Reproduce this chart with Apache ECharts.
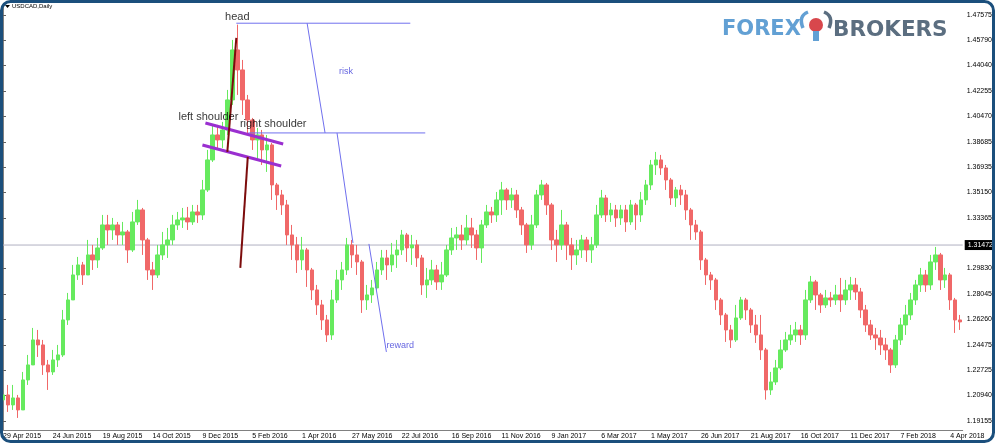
<!DOCTYPE html>
<html><head><meta charset="utf-8">
<script src="https://cdn.jsdelivr.net/npm/echarts@6/dist/echarts.min.js"></script>
<style>html,body{margin:0;padding:0;background:#fff;}#c{width:995px;height:443px;}</style>
</head><body><div id="c"></div>
<script>
// ---- tick labels ----
const dateLabels = ['29 Apr 2015','24 Jun 2015','19 Aug 2015','14 Oct 2015','9 Dec 2015','5 Feb 2016','1 Apr 2016','27 May 2016','22 Jul 2016','16 Sep 2016','11 Nov 2016','9 Jan 2017','6 Mar 2017','1 May 2017','26 Jun 2017','21 Aug 2017','16 Oct 2017','11 Dec 2017','7 Feb 2018','4 Apr 2018'];
const priceTicks = [1.47575,1.45790,1.44040,1.42255,1.40470,1.38685,1.36935,1.35150,1.33365,1.29830,1.28045,1.26260,1.24475,1.22725,1.20940,1.19155];
const currentPrice = 1.31472;

// ---- USDCAD price bars (each bar ~4 trading days) ----
const openP = [1.2063,1.2098,1.2028,1.2077,1.1993,1.2203,1.2308,1.2483,1.2448,1.2308,
1.2259,1.2343,1.2378,1.2623,1.2763,1.2938,1.3008,1.2938,1.3078,1.3043,
1.3127,1.3288,1.3253,1.3288,1.3218,1.3239,1.3113,1.3309,1.3393,1.3183,
1.2973,1.2938,1.3078,1.3148,1.3183,1.3288,1.3323,1.3337,1.3309,1.3379,
1.3358,1.3533,1.3743,1.3918,1.3883,1.3953,1.4163,1.4513,1.4373,1.4163,
1.4023,1.3883,1.3918,1.3813,1.3848,1.3568,1.3498,1.3428,1.3218,1.3148,
1.3043,1.3113,1.2973,1.2833,1.2728,1.2623,1.2518,1.2763,1.2903,1.2973,
1.3148,1.3078,1.3029,1.2763,1.2798,1.2847,1.2973,1.3057,1.3008,1.3078,
1.3113,1.3218,1.3127,1.3148,1.3057,1.2868,1.2903,1.2973,1.2889,1.2938,
1.3113,1.3197,1.3218,1.3183,1.3267,1.3218,1.3127,1.3288,1.3379,1.3358,
1.3463,1.3533,1.3463,1.3498,1.3393,1.3288,1.3148,1.3288,1.3498,1.3568,
1.3428,1.3183,1.3148,1.3288,1.3148,1.3078,1.3113,1.3183,1.3113,1.3148,
1.3358,1.3477,1.3358,1.3393,1.3337,1.3393,1.3309,1.3428,1.3358,1.3463,
1.3568,1.3708,1.3743,1.3687,1.3603,1.3477,1.3533,1.3498,1.3393,1.3288,
1.3239,1.3043,1.2938,1.2903,1.2763,1.2658,1.2553,1.2483,1.2637,1.2763,
1.2693,1.2588,1.2518,1.2413,1.2133,1.2189,1.2287,1.2413,1.2483,1.2518,
1.2553,1.2518,1.2763,1.2889,1.2798,1.2728,1.2777,1.2763,1.2798,1.2763,
1.2833,1.2868,1.2819,1.2693,1.2588,1.2518,1.2497,1.2448,1.2413,1.2308,
1.2483,1.2588,1.2658,1.2763,1.2868,1.2938,1.2868,1.3029,1.3078,1.2903,
1.2938,1.2763,1.2623];
const closeP = [1.2098,1.2028,1.2077,1.1993,1.2203,1.2308,1.2483,1.2448,1.2308,1.2259,
1.2343,1.2378,1.2623,1.2763,1.2938,1.3008,1.2938,1.3078,1.3043,1.3127,
1.3288,1.3253,1.3288,1.3218,1.3239,1.3113,1.3309,1.3393,1.3183,1.2973,
1.2938,1.3078,1.3148,1.3183,1.3288,1.3323,1.3337,1.3309,1.3379,1.3358,
1.3533,1.3743,1.3918,1.3883,1.3953,1.4163,1.4513,1.4373,1.4163,1.4023,
1.3883,1.3918,1.3813,1.3848,1.3568,1.3498,1.3428,1.3218,1.3148,1.3043,
1.3113,1.2973,1.2833,1.2728,1.2623,1.2518,1.2763,1.2903,1.2973,1.3148,
1.3078,1.3029,1.2763,1.2798,1.2847,1.2973,1.3057,1.3008,1.3078,1.3113,
1.3218,1.3127,1.3148,1.3057,1.2868,1.2903,1.2973,1.2889,1.2938,1.3113,
1.3197,1.3218,1.3183,1.3267,1.3218,1.3127,1.3288,1.3379,1.3358,1.3463,
1.3533,1.3463,1.3498,1.3393,1.3288,1.3148,1.3288,1.3498,1.3568,1.3428,
1.3183,1.3148,1.3288,1.3148,1.3078,1.3113,1.3183,1.3113,1.3148,1.3358,
1.3477,1.3358,1.3393,1.3337,1.3393,1.3309,1.3428,1.3358,1.3463,1.3568,
1.3708,1.3743,1.3687,1.3603,1.3477,1.3533,1.3498,1.3393,1.3288,1.3239,
1.3043,1.2938,1.2903,1.2763,1.2658,1.2553,1.2483,1.2637,1.2763,1.2693,
1.2588,1.2518,1.2413,1.2133,1.2189,1.2287,1.2413,1.2483,1.2518,1.2553,
1.2518,1.2763,1.2889,1.2798,1.2728,1.2777,1.2763,1.2798,1.2763,1.2833,
1.2868,1.2819,1.2693,1.2588,1.2518,1.2497,1.2448,1.2413,1.2308,1.2483,
1.2588,1.2658,1.2763,1.2868,1.2938,1.2868,1.3029,1.3078,1.2903,1.2938,
1.2763,1.2623,1.2609];
const highP = [1.2182,1.2168,1.2168,1.2098,1.2259,1.2378,1.2567,1.2553,1.2483,1.2343,
1.2413,1.2448,1.2693,1.2812,1.3008,1.3064,1.3029,1.3183,1.3148,1.3197,
1.3358,1.3358,1.3337,1.3309,1.3309,1.3253,1.3379,1.3463,1.3407,1.3197,
1.3029,1.3148,1.3239,1.3267,1.3358,1.3379,1.3407,1.3414,1.3428,1.3428,
1.3603,1.3813,1.3988,1.3988,1.4009,1.4233,1.4583,1.4690,1.4443,1.4198,
1.4037,1.3967,1.3953,1.3918,1.3862,1.3582,1.3533,1.3463,1.3288,1.3204,
1.3204,1.3127,1.2987,1.2868,1.2763,1.2658,1.2833,1.2973,1.3029,1.3197,
1.3183,1.3148,1.3043,1.2868,1.2903,1.3029,1.3113,1.3113,1.3162,1.3183,
1.3253,1.3232,1.3218,1.3183,1.3078,1.2987,1.3043,1.3008,1.3029,1.3148,
1.3267,1.3274,1.3288,1.3358,1.3337,1.3253,1.3323,1.3428,1.3414,1.3519,
1.3589,1.3547,1.3547,1.3533,1.3414,1.3302,1.3358,1.3533,1.3603,1.3582,
1.3442,1.3253,1.3393,1.3309,1.3197,1.3183,1.3218,1.3204,1.3204,1.3428,
1.3533,1.3498,1.3442,1.3428,1.3428,1.3428,1.3463,1.3442,1.3519,1.3603,
1.3743,1.3799,1.3778,1.3708,1.3617,1.3554,1.3568,1.3533,1.3407,1.3323,
1.3253,1.3057,1.2959,1.2917,1.2777,1.2672,1.2588,1.2728,1.2784,1.2777,
1.2707,1.2658,1.2658,1.2427,1.2259,1.2343,1.2483,1.2539,1.2588,1.2609,
1.2588,1.2833,1.2931,1.2903,1.2812,1.2833,1.2819,1.2868,1.2917,1.2903,
1.2924,1.2917,1.2847,1.2728,1.2623,1.2567,1.2553,1.2497,1.2427,1.2518,
1.2637,1.2728,1.2812,1.2903,1.2987,1.2973,1.3078,1.3134,1.3092,1.2987,
1.2952,1.2777,1.2658];
const lowP = [1.2028,1.1979,1.1993,1.1937,1.1993,1.2168,1.2308,1.2364,1.2238,1.2133,
1.2238,1.2294,1.2364,1.2588,1.2763,1.2903,1.2868,1.2938,1.2973,1.2987,
1.3113,1.3148,1.3183,1.3148,1.3148,1.3022,1.3099,1.3288,1.3078,1.2903,
1.2833,1.2917,1.3043,1.3057,1.3148,1.3253,1.3267,1.3253,1.3288,1.3302,
1.3323,1.3519,1.3729,1.3813,1.3827,1.3918,1.4128,1.4198,1.4058,1.3918,
1.3813,1.3743,1.3708,1.3659,1.3463,1.3393,1.3358,1.3148,1.3043,1.2952,
1.2973,1.2854,1.2763,1.2658,1.2553,1.2469,1.2483,1.2742,1.2833,1.2938,
1.2987,1.2938,1.2672,1.2693,1.2742,1.2833,1.2938,1.2903,1.2959,1.2987,
1.3078,1.3029,1.3008,1.2994,1.2798,1.2777,1.2868,1.2833,1.2833,1.2924,
1.3078,1.3113,1.3113,1.3148,1.3127,1.3043,1.3022,1.3267,1.3302,1.3309,
1.3358,1.3393,1.3407,1.3337,1.3218,1.3092,1.3113,1.3267,1.3463,1.3358,
1.3113,1.3029,1.3113,1.3043,1.2973,1.3008,1.3057,1.3029,1.3022,1.3127,
1.3337,1.3309,1.3309,1.3274,1.3288,1.3239,1.3288,1.3253,1.3309,1.3428,
1.3533,1.3638,1.3638,1.3533,1.3428,1.3414,1.3428,1.3323,1.3183,1.3183,
1.2973,1.2868,1.2833,1.2693,1.2588,1.2469,1.2427,1.2469,1.2623,1.2623,
1.2532,1.2462,1.2343,1.2065,1.2098,1.2168,1.2273,1.2399,1.2448,1.2469,
1.2448,1.2483,1.2742,1.2693,1.2672,1.2707,1.2714,1.2728,1.2679,1.2728,
1.2763,1.2763,1.2637,1.2539,1.2483,1.2413,1.2378,1.2343,1.2252,1.2287,
1.2448,1.2518,1.2623,1.2728,1.2819,1.2819,1.2833,1.2973,1.2833,1.2847,
1.2693,1.2532,1.2553];

// ---- annotations: [bar index, price] ----
const blueSegments = [
  [[46.8, 1.4700], [81.7, 1.4700]],
  [[61.0, 1.4700], [64.6, 1.3932]],
  [[49.2, 1.3932], [84.7, 1.3932]],
  [[67.0, 1.3932], [70.2, 1.3162]],
  [[73.4, 1.3155], [76.9, 1.2399]]
];
const purpleSegments = [
  [[40.6, 1.4002], [56.2, 1.3855]],
  [[40.0, 1.3848], [55.8, 1.3701]]
];
const redSegments = [
  [[45.0, 1.3799], [46.8, 1.4597]],
  [[47.6, 1.2987], [49.1, 1.3764]]
];
const blackNotes = [
  {name: 'head', value: [47.0, 1.4743]},
  {name: 'left shoulder', value: [41.2, 1.4044]},
  {name: 'right shoulder', value: [54.2, 1.3995]}
];
const blueNotes = [
  {name: 'risk', value: [68.8, 1.4359]},
  {name: 'reward', value: [79.7, 1.2441]}
];

const N = closeP.length;
const candles = closeP.map((c, i) => [openP[i], c, lowP[i], highP[i]]);
const cats = closeP.map((_, i) => String(i));
const FONT = '"Liberation Sans", Arial, sans-serif';

function segSeries(list, color, width) {
  return list.map(s => ({
    type: 'line', xAxisIndex: 1, yAxisIndex: 0, data: s, symbol: 'none', silent: true, z: 5,
    lineStyle: {color: color, width: width}, animation: false
  }));
}

const chart = echarts.init(document.getElementById('c'), null, {renderer: 'canvas'});
chart.setOption({
  animation: false,
  backgroundColor: '#ffffff',
  grid: {left: 0, right: 32, top: 5, bottom: 13, containLabel: false},
  xAxis: [{
    type: 'category', data: cats, boundaryGap: true,
    axisLine: {lineStyle: {color: '#808080', width: 1}},
    axisTick: {alignWithLabel: true, interval: (i) => i % 10 === 0, length: 3, lineStyle: {color: '#606060'}},
    axisLabel: {interval: (i) => i % 10 === 0, formatter: (v, i) => dateLabels[i / 10] || '', align: 'left',
      fontSize: 7, color: '#000', margin: 3, fontFamily: FONT},
    splitLine: {show: false}
  }, {
    type: 'value', min: -0.5, max: N - 0.5, show: false, splitLine: {show: false}
  }],
  yAxis: {
    type: 'value', position: 'right', min: 1.18525, max: 1.48275,
    axisLine: {show: true, lineStyle: {color: '#808080', width: 1}},
    axisTick: {show: true, customValues: priceTicks, length: 3, lineStyle: {color: '#606060'}},
    axisLabel: {customValues: priceTicks, formatter: (v) => v.toFixed(5), fontSize: 7, color: '#000', margin: 4, fontFamily: FONT},
    splitLine: {show: false}
  },
  series: [{
    type: 'line', xAxisIndex: 1, yAxisIndex: 0, silent: true, z: 1, symbol: 'none',
    data: [[-0.5, currentPrice], [N - 0.5, currentPrice]],
    lineStyle: {color: '#b0b0c2', width: 1},
    endLabel: {show: true, distance: 2, formatter: currentPrice.toFixed(5),
      backgroundColor: '#000', color: '#fff', fontSize: 7, padding: [2, 3, 1, 3], fontFamily: FONT}
  }, {
    type: 'candlestick', data: candles, barWidth: 4, z: 2,
    itemStyle: {color: '#66ea5e', color0: '#f06868', borderColor: '#66ea5e', borderColor0: '#f06868', borderWidth: 1}
  }].concat(
    segSeries(blueSegments, '#7070ee', 1),
    segSeries(purpleSegments, '#9a2fd0', 3),
    segSeries(redSegments, '#7c0c0c', 2),
    [{
      type: 'scatter', xAxisIndex: 1, yAxisIndex: 0, silent: true, z: 6, symbolSize: 1,
      itemStyle: {color: 'rgba(0,0,0,0)'}, data: blackNotes,
      label: {show: true, position: 'inside', formatter: '{b}', color: '#000', fontSize: 11, fontFamily: FONT}
    }, {
      type: 'scatter', xAxisIndex: 1, yAxisIndex: 0, silent: true, z: 6, symbolSize: 1,
      itemStyle: {color: 'rgba(0,0,0,0)'}, data: blueNotes,
      label: {show: true, position: 'inside', formatter: '{b}', color: '#3c3cd8', fontSize: 9, fontFamily: FONT}
    }]
  ),
  graphic: [
    {type: 'polygon', shape: {points: [[5, 5], [10, 5], [7.5, 8]]}, style: {fill: '#000'}},
    {type: 'text', x: 12, y: 3, style: {text: 'USDCAD,Daily', fontSize: 6, fontFamily: FONT, fill: '#000'}},
    {type: 'text', x: 722, y: 30, style: {text: 'FOREX', font: 'bold 21px "DejaVu Sans"', fill: '#62a0d4', textVerticalAlign: 'middle'}},
    {type: 'text', x: 833, y: 30, style: {text: 'BROKERS', font: 'bold 21.5px "DejaVu Sans"', fill: '#5b6e80', textVerticalAlign: 'middle'}},
    {type: 'bezierCurve', shape: {x1: 803, y1: 28, cpx1: 798, cpy1: 16, x2: 808, y2: 12}, style: {stroke: '#62a0d4', lineWidth: 3.5, fill: null}},
    {type: 'bezierCurve', shape: {x1: 829, y1: 28, cpx1: 834, cpy1: 16, x2: 824, y2: 12}, style: {stroke: '#5b6e80', lineWidth: 3.5, fill: null}},
    {type: 'circle', shape: {cx: 816, cy: 25, r: 7}, style: {fill: '#d8474c'}},
    {type: 'rect', shape: {x: 813, y: 31, width: 6, height: 10}, style: {fill: '#62a0d4'}},
    {type: 'rect', shape: {x: 1.5, y: 1.5, width: 992, height: 440, r: 9}, style: {stroke: '#1b4f7c', lineWidth: 3, fill: null}, z: 100}
  ]
});
</script></body></html>
